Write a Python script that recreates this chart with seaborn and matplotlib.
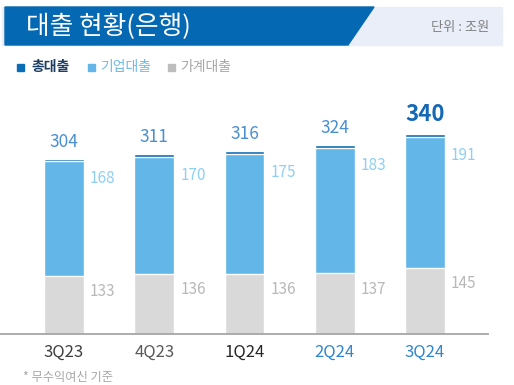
import numpy as np
import matplotlib
matplotlib.use("Agg")
import matplotlib.pyplot as plt
from matplotlib.patches import Polygon, Rectangle
import seaborn as sns

quarters = ["3Q23", "4Q23", "1Q24", "2Q24", "3Q24"]
total = [304, 311, 316, 324, 340]
corporate = [168, 170, 175, 183, 191]
household = [133, 136, 136, 137, 145]
tick_colors = ["#404040", "#5a5a5a", "#262626", "#2f86cf", "#2f86cf"]

dark = "#0a6db7"
light = "#62b6e8"
grey = "#d9d9d9"

sns.set_theme(style="white")
plt.rcParams["font.family"] = ["Noto Sans CJK KR", "DejaVu Sans"]

W, H = 514, 385
fig = plt.figure(figsize=(W / 100, H / 100), dpi=100)


def fx(px):
    return px / W


def fy(py):
    return 1 - py / H


# title banner
fig.patches.append(Rectangle((fx(2), fy(45)), fx(500), fy(7) - fy(45),
                             transform=fig.transFigure, color="#e9eef8", zorder=0))
fig.patches.append(Polygon([(fx(5), fy(7)), (fx(374), fy(7)), (fx(348), fy(45)), (fx(5), fy(45))],
                           closed=True, transform=fig.transFigure, color="#0568b3", zorder=1))
fig.text(fx(26), fy(27), "대출 현황(은행)", color="white", fontsize=18.5, va="center", ha="left")
fig.text(fx(489), fy(28), "단위 : 조원", color="#808080", fontsize=9.5, va="center", ha="right")

# legend
leg = [("총대출", dark, "#1d3e63", 17, 31), ("기업대출", light, "#6bbbe9", 88, 100),
       ("가계대출", "#bdbdbd", "#a6a6a6", 168, 180)]
for name, sq, tc, xs, xt in leg:
    fig.patches.append(Rectangle((fx(xs), fy(71)), fx(7), fy(64) - fy(71),
                                 transform=fig.transFigure, color=sq))
    fig.text(fx(xt), fy(67), name, color=tc, fontsize=10, va="center", ha="left",
             fontweight="bold" if name == "총대출" else "normal")

# bars
ax = fig.add_axes([0, fy(334), fx(488), fy(100) - fy(334)])
bw = 0.443
stack_mid = np.add(corporate, household)
sns.barplot(x=quarters, y=total, color=dark, width=bw, saturation=1, errorbar=None, ax=ax)
sns.barplot(x=quarters, y=stack_mid, color=light, width=bw, saturation=1, errorbar=None, ax=ax)
sns.barplot(x=quarters, y=household, color=grey, width=bw, saturation=1, errorbar=None, ax=ax)

ax.set_ylim(48, 390)
ax.set_xlim(-0.709, 4.698)
ax.set_xlabel("")
ax.set_ylabel("")
ax.set_yticks([])
for s in ["top", "left", "right"]:
    ax.spines[s].set_visible(False)
ax.spines["bottom"].set_color("#a6a6a6")
ax.spines["bottom"].set_linewidth(1.3)
ax.tick_params(axis="x", length=0, pad=7, labelsize=12)
for lab, c in zip(ax.get_xticklabels(), tick_colors):
    lab.set_color(c)

for i in range(len(quarters)):
    last = i == len(quarters) - 1
    ax.annotate(str(total[i]), (i, total[i]), xytext=(0, 14.5 if last else 12),
                textcoords="offset points", ha="center", va="center",
                color="#1468b5" if last else "#4a8fd0",
                fontsize=16 if last else 12.5, fontweight="bold" if last else "normal")
    ax.annotate(str(corporate[i]), (i + bw / 2, stack_mid[i]), xytext=(4.3, -13),
                textcoords="offset points", ha="left", va="center",
                color="#8fcff3", fontsize=11)
    ax.annotate(str(household[i]), (i + bw / 2, household[i]), xytext=(4.3, -11.5),
                textcoords="offset points", ha="left", va="center",
                color="#b8b8b8", fontsize=11)

fig.text(fx(23), fy(378), "* 무수익여신 기준", color="#a6a6a6", fontsize=8.8, va="center", ha="left")

fig.savefig("out.png", dpi=100)
